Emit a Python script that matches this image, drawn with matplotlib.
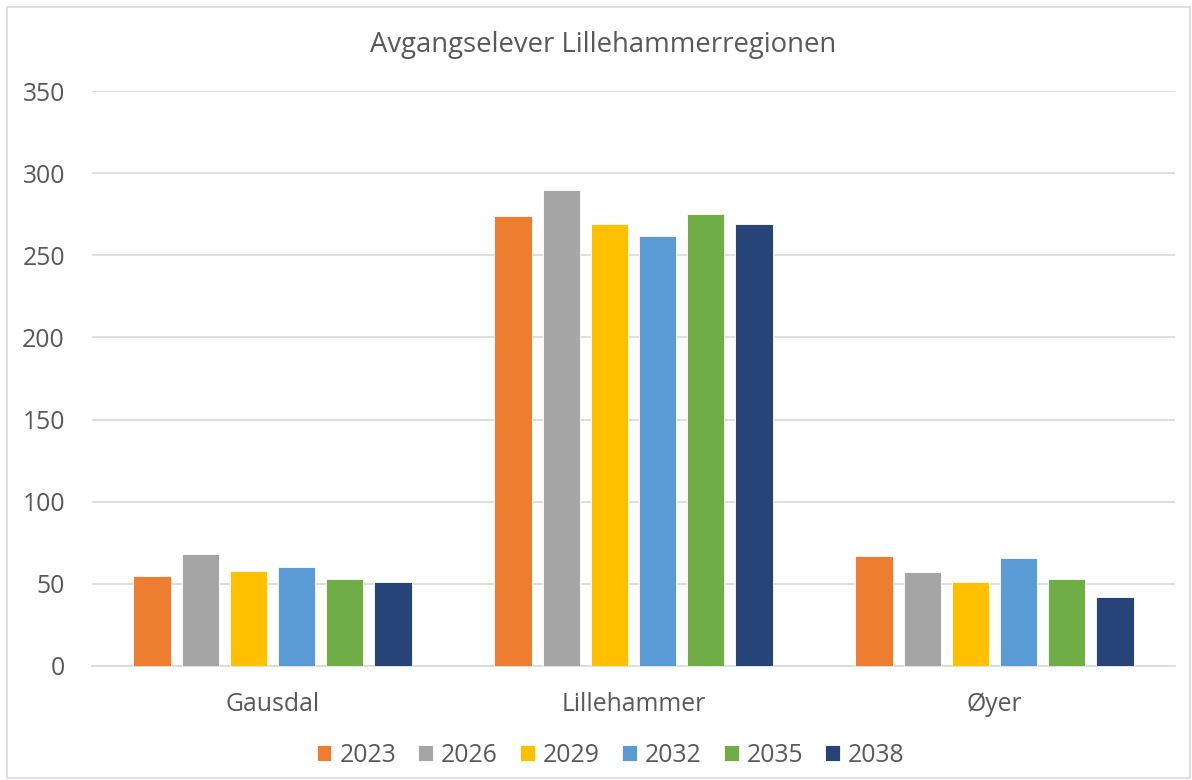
import numpy as np
import matplotlib.pyplot as plt
from matplotlib.patches import Rectangle

kommuner = ['Gausdal', 'Lillehammer', 'Øyer']
aar = ['2023', '2026', '2029', '2032', '2035', '2038']
verdier = {
    '2023': [55, 274, 67],
    '2026': [68, 290, 57],
    '2029': [58, 269, 51],
    '2032': [60, 262, 66],
    '2035': [53, 275, 53],
    '2038': [51, 269, 42],
}
farger = ['#ED7D31', '#A5A5A5', '#FFC000', '#5B9BD5', '#70AD47', '#264478']

plt.rcParams['font.family'] = ['Open Sans', 'DejaVu Sans']
tekst = '#595959'

fig = plt.figure(figsize=(11.92, 7.80), dpi=100)
ax = fig.add_axes([0.0772, 0.1462, 0.9085, 0.7371])

x = np.arange(len(kommuner))
pitch = 0.1335
bredde = 0.103
for i, a in enumerate(aar):
    ax.bar(x + (i - 2.5) * pitch, verdier[a], width=bredde, color=farger[i],
           edgecolor='white', linewidth=0.6, label=a, zorder=3)

ax.set_ylim(0, 350)
ax.set_xlim(-0.5, 2.5)
ax.set_yticks(range(0, 351, 50))
ax.grid(axis='y', color='#D9D9D9', linewidth=1.2, zorder=0)
for s in ['top', 'right', 'left']:
    ax.spines[s].set_visible(False)
ax.spines['bottom'].set_color('#D9D9D9')
ax.spines['bottom'].set_linewidth(1.2)
ax.tick_params(axis='y', length=0, pad=19.5, labelsize=17.8, labelcolor=tekst)
ax.tick_params(axis='x', length=0, pad=18.5, labelsize=17.8, labelcolor=tekst)
ax.set_xticks(x)
ax.set_xticklabels(kommuner)

fig.text(0.506, 0.942, 'Avgangselever Lillehammerregionen', ha='center', va='center',
         fontsize=19.8, color=tekst)

ax.legend(loc='center', bbox_to_anchor=(0.479, -0.155), bbox_transform=ax.transAxes,
          ncol=6, frameon=False, fontsize=17.8, labelcolor=tekst, handlelength=0.6,
          handleheight=0.6, handletextpad=0.32, columnspacing=0.9)

fig.patches.append(Rectangle((0.006, 0.002), 0.992, 0.989, transform=fig.transFigure,
                             fill=False, edgecolor='#D9D9D9', linewidth=1.2))

fig.savefig('out.png', dpi=100)
